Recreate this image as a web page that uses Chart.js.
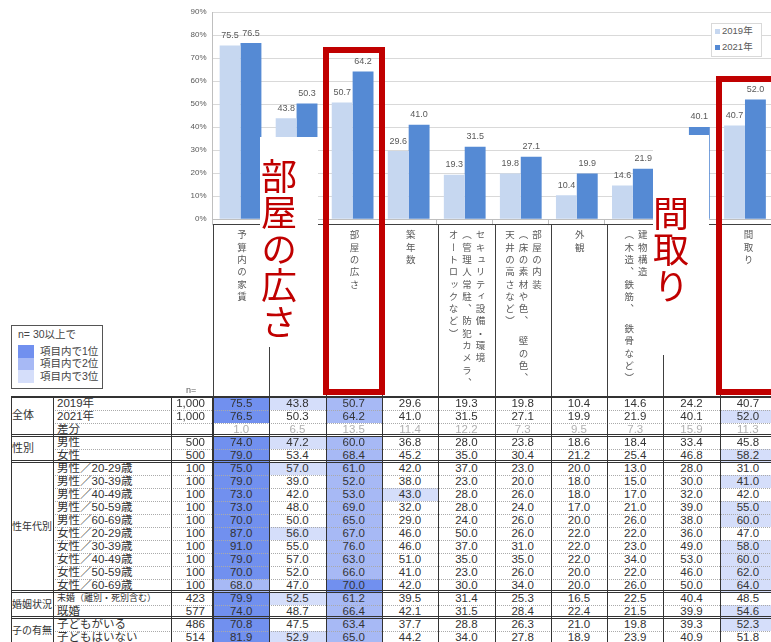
<!DOCTYPE html>
<html>
<head>
<meta charset="utf-8">
<script src="https://cdn.jsdelivr.net/npm/chart.js@4.4.1/dist/chart.umd.min.js"></script>
<style>
html, body { margin: 0; padding: 0; background: #fff; overflow: hidden; }
#wrap { position: relative; width: 771px; height: 642px; overflow: hidden;
  font-family: "Liberation Sans", "Noto Sans CJK JP", sans-serif; color: #333; }
#chartBox { position: absolute; left: 150px; top: 0; }
.abs { position: absolute; box-sizing: border-box; }
.cell { position: absolute; box-sizing: border-box; font-size: 11.5px; line-height: 13px; white-space: nowrap; }
.vhead { position: absolute; top: 230px; writing-mode: vertical-rl; font-family: "Noto Sans CJK JP", sans-serif;
  font-size: 9.5px; letter-spacing: 2.8px; line-height: 13.5px; color: #595959; white-space: pre; }
.bigred { position: absolute; writing-mode: vertical-rl; font-family: "Noto Sans CJK JP", sans-serif;
  color: #C00000; line-height: 1; white-space: nowrap; }
.redbox { position: absolute; border: 6px solid #C00000; box-sizing: border-box; }
</style>
</head>
<body>
<div id="wrap">
  <div id="chartBox"><canvas id="chart" width="623" height="230"></canvas></div>
</div>
<script>
// chart values (%)
const categories = [
  '予算内の家賃', '', '部屋の広さ', '築年数',
  'セキュリティ設備・環境\n（管理人常駐、防犯カメラ、\nオートロックなど）',
  '部屋の内装\n（床の素材や色、　壁の色、\n天井の高さなど）',
  '外観', '建物構造\n（木造、鉄筋、　鉄骨など）', '', '間取り'
];
const values2019 = [75.5, 43.8, 50.7, 29.6, 19.3, 19.8, 10.4, 14.6, 24.2, 40.7];
const values2021 = [76.5, 50.3, 64.2, 41.0, 31.5, 27.1, 19.9, 21.9, 40.1, 52.0];
const yTicks = [0, 10, 20, 30, 40, 50, 60, 70, 80, 90];
const seriesNames = ['2019年', '2021年'];

// table
const groupNames = ['全体', '性別', '性年代別', '婚姻状況', '子の有無'];
const groupSizes = [3, 2, 10, 2, 2];
const rowLabels = [
  '2019年', '2021年', '差分', '男性', '女性',
  '男性／20-29歳', '男性／30-39歳', '男性／40-49歳', '男性／50-59歳', '男性／60-69歳',
  '女性／20-29歳', '女性／30-39歳', '女性／40-49歳', '女性／50-59歳', '女性／60-69歳',
  '未婚（離別・死別含む）', '既婚', '子どもがいる', '子どもはいない'
];
const rowN = ['1,000', '1,000', '', '500', '500', '100', '100', '100', '100', '100',
  '100', '100', '100', '100', '100', '423', '577', '486', '514'];
const tableRows = [
  [75.5, 43.8, 50.7, 29.6, 19.3, 19.8, 10.4, 14.6, 24.2, 40.7],
  [76.5, 50.3, 64.2, 41.0, 31.5, 27.1, 19.9, 21.9, 40.1, 52.0],
  [1.0, 6.5, 13.5, 11.4, 12.2, 7.3, 9.5, 7.3, 15.9, 11.3],
  [74.0, 47.2, 60.0, 36.8, 28.0, 23.8, 18.6, 18.4, 33.4, 45.8],
  [79.0, 53.4, 68.4, 45.2, 35.0, 30.4, 21.2, 25.4, 46.8, 58.2],
  [75.0, 57.0, 61.0, 42.0, 37.0, 23.0, 20.0, 13.0, 28.0, 31.0],
  [79.0, 39.0, 52.0, 38.0, 23.0, 20.0, 18.0, 15.0, 30.0, 41.0],
  [73.0, 42.0, 53.0, 43.0, 28.0, 26.0, 18.0, 17.0, 32.0, 42.0],
  [73.0, 48.0, 69.0, 32.0, 28.0, 24.0, 17.0, 21.0, 39.0, 55.0],
  [70.0, 50.0, 65.0, 29.0, 24.0, 26.0, 20.0, 26.0, 38.0, 60.0],
  [87.0, 56.0, 67.0, 46.0, 50.0, 26.0, 22.0, 22.0, 36.0, 47.0],
  [91.0, 55.0, 76.0, 46.0, 37.0, 31.0, 22.0, 23.0, 49.0, 58.0],
  [79.0, 57.0, 63.0, 51.0, 35.0, 35.0, 22.0, 34.0, 53.0, 60.0],
  [70.0, 52.0, 66.0, 41.0, 23.0, 26.0, 20.0, 22.0, 46.0, 62.0],
  [68.0, 47.0, 70.0, 42.0, 30.0, 34.0, 20.0, 26.0, 50.0, 64.0],
  [79.9, 52.5, 61.2, 39.5, 31.4, 25.3, 16.5, 22.5, 40.4, 48.5],
  [74.0, 48.7, 66.4, 42.1, 31.5, 28.4, 22.4, 21.5, 39.9, 54.6],
  [70.8, 47.5, 63.4, 37.7, 28.8, 26.3, 21.0, 19.8, 39.3, 52.3],
  [81.9, 52.9, 65.0, 44.2, 34.0, 27.8, 18.9, 23.9, 40.9, 51.8]
];
const diffRow = 2;
const rankColors = ['#7190EF', '#A7B9F5', '#D5DEFA'];
const rankLabels = ['項目内で1位', '項目内で2位', '項目内で3位'];

const wrap = document.getElementById('wrap');
function add(cls, css, text) {
  const d = document.createElement('div');
  d.className = cls;
  Object.assign(d.style, css);
  if (text !== undefined) d.textContent = text;
  wrap.appendChild(d);
  return d;
}

// value labels above bars
const valueLabels = {
  id: 'valueLabels',
  afterDatasetsDraw(chart) {
    const { ctx } = chart;
    ctx.save();
    ctx.font = '9px "Liberation Sans", Arial, sans-serif';
    ctx.fillStyle = '#595959';
    ctx.textAlign = 'center';
    ctx.textBaseline = 'middle';
    chart.data.datasets.forEach((ds, di) => {
      chart.getDatasetMeta(di).data.forEach((bar, i) => {
        ctx.fillText(ds.data[i].toFixed(1), bar.x, bar.y - 10);
      });
    });
    ctx.restore();
  }
};

new Chart(document.getElementById('chart'), {
  type: 'bar',
  data: {
    labels: categories,
    datasets: [
      { label: seriesNames[0], data: values2019, backgroundColor: '#C6D7F0', categoryPercentage: 0.745, barPercentage: 1 },
      { label: seriesNames[1], data: values2021, backgroundColor: '#558AD4', categoryPercentage: 0.745, barPercentage: 1 }
    ]
  },
  options: {
    responsive: false,
    animation: false,
    layout: { padding: { top: 12, right: 0, bottom: 0, left: 0 } },
    plugins: { legend: { display: false }, tooltip: { enabled: false } },
    scales: {
      x: {
        ticks: { display: false },
        grid: { display: true, drawOnChartArea: false, tickLength: 6, color: '#bfbfbf' },
        border: { display: true, color: '#bfbfbf' },
        afterFit(scale) { scale.height = 6; }
      },
      y: {
        min: 0, max: 90,
        afterBuildTicks(scale) { scale.ticks = yTicks.map(v => ({ value: v })); },
        ticks: {
          callback: v => v + '%',
          color: '#595959',
          font: { family: '"Liberation Sans", Arial, sans-serif', size: 8 },
          padding: 6
        },
        grid: { color: '#d9d9d9', tickLength: 0 },
        border: { display: true, color: '#bfbfbf' },
        afterFit(scale) { scale.width = 62.5; }
      }
    }
  },
  plugins: [valueLabels]
});

// chart legend
add('abs', { left: '711px', top: '23px', width: '51px', height: '34px', border: '1px solid #d9d9d9', background: '#fff' });
seriesNames.forEach((s, i) => {
  add('abs', { left: '715px', top: (29 + i * 16) + 'px', width: '5px', height: '5px', background: i ? '#558AD4' : '#C6D7F0' });
  add('abs', { left: '722px', top: (24 + i * 16) + 'px', fontSize: '9.5px', lineHeight: '14px', color: '#595959' }, s);
});

// table geometry
const colLeft = 213, colW = 56.3, rowTop = 396.5, rowH = 13;
const tableRight = 790;

// header box with vertical texts
add('abs', { left: colLeft + 'px', top: '224px', width: (tableRight - colLeft) + 'px', height: '173px',
  borderTop: '1px solid #404040', borderLeft: '1px solid #404040' });
for (let j = 1; j < 10; j++) {
  add('abs', { left: Math.round(colLeft + j * colW) + 'px', top: '224px', width: '1px', height: '173px', background: '#404040' });
}
categories.forEach((c, j) => {
  if (!c) return;
  const d = add('vhead', {}, c);
  const cx = colLeft + (j + 0.5) * colW;
  const lines = c.split('\n').length;
  d.style.left = (cx - lines * 13.5 / 2) + 'px';
});

// table body
const totalH = rowLabels.length * rowH;
let r = 0;
groupNames.forEach((g, gi) => {
  const y0 = rowTop + r * rowH;
  const h = groupSizes[gi] * rowH;
  add('cell', { left: '12px', top: (y0 + h / 2 - 7) + 'px', fontSize: g.length > 2 ? '10px' : '11px' }, g);
  r += groupSizes[gi];
});
tableRows.forEach((vals, i) => {
  const y = rowTop + i * rowH;
  const lab = rowLabels[i];
  add('cell', { left: '57px', top: y + 'px', height: rowH + 'px', lineHeight: rowH + 'px',
    fontSize: lab.length > 9 ? '9px' : '11.5px' }, lab);
  add('cell', { left: '171px', top: y + 'px', width: '42px', height: rowH + 'px', lineHeight: rowH + 'px', textAlign: 'right', paddingRight: '8px' }, rowN[i]);
  const sorted = vals.slice().sort((a, b) => b - a);
  vals.forEach((v, j) => {
    const rank = i === diffRow ? -1 : sorted.indexOf(v);
    add('cell', {
      left: (colLeft + j * colW) + 'px', top: y + 'px', width: colW + 'px', height: rowH + 'px',
      lineHeight: rowH + 'px', textAlign: 'center',
      background: rank >= 0 && rank < 3 ? rankColors[rank] : 'transparent',
      color: i === diffRow ? '#b0b0b0' : '#333'
    }, v.toFixed(1));
  });
});
// horizontal lines
const starts = [0];
groupSizes.reduce((acc, s) => { starts.push(acc + s); return acc + s; }, 0);
for (let i = 0; i < rowLabels.length; i++) {
  const y = rowTop + i * rowH;
  if (i === 0) {
    add('abs', { left: '11px', top: (y - 1) + 'px', width: (tableRight - 11) + 'px', height: '2px', background: '#333' });
  } else if (starts.includes(i)) {
    add('abs', { left: '11px', top: (y - 1.5) + 'px', width: (tableRight - 11) + 'px', height: '3px', borderTop: '1px solid #333', borderBottom: '1px solid #333' });
  } else {
    add('abs', { left: '53px', top: y + 'px', width: (tableRight - 53) + 'px', height: '1px', borderTop: '1px dotted #aaa' });
  }
}
// vertical lines
[11, 53, 171, 213].concat([1, 2, 3, 4, 5, 6, 7, 8, 9].map(j => Math.round(colLeft + j * colW))).forEach(x => {
  add('abs', { left: (x - (x === 213 ? 1 : 0)) + 'px', top: (rowTop - 1) + 'px', width: (x === 213 ? 2 : 1) + 'px', height: (totalH + 2) + 'px', background: '#333' });
});

// "n=" and rank legend
add('cell', { left: '186px', top: '384px', fontSize: '9px', color: '#595959' }, 'n=');
add('abs', { left: '11px', top: '325px', width: '92px', height: '64px', border: '1px solid #555', background: '#fff' });
add('cell', { left: '18px', top: '328px', fontSize: '10.5px', color: '#444' }, 'n= 30以上で');
rankColors.forEach((c, k) => {
  add('abs', { left: '18px', top: (345 + k * 12.6) + 'px', width: '16px', height: '12.6px', background: c });
  add('cell', { left: '40px', top: (344.5 + k * 12.6) + 'px', fontSize: '10.5px', color: '#444' }, rankLabels[k]);
});

// annotation overlays
add('abs', { left: '260px', top: '137px', width: '58px', height: '210px', background: '#fff' });
add('abs', { left: '653px', top: '135px', width: '56px', height: '220px', background: '#fff' });
add('bigred', { left: '261px', top: '158px', fontSize: '36px', letterSpacing: '0.5px' }, '部屋の広さ');
add('bigred', { left: '653px', top: '195px', fontSize: '36px', letterSpacing: '0.5px' }, '間取り');
add('redbox', { left: '323px', top: '47px', width: '62px', height: '348px' });
add('redbox', { left: '716px', top: '76px', width: '80px', height: '319px' });
</script>
</body>
</html>
